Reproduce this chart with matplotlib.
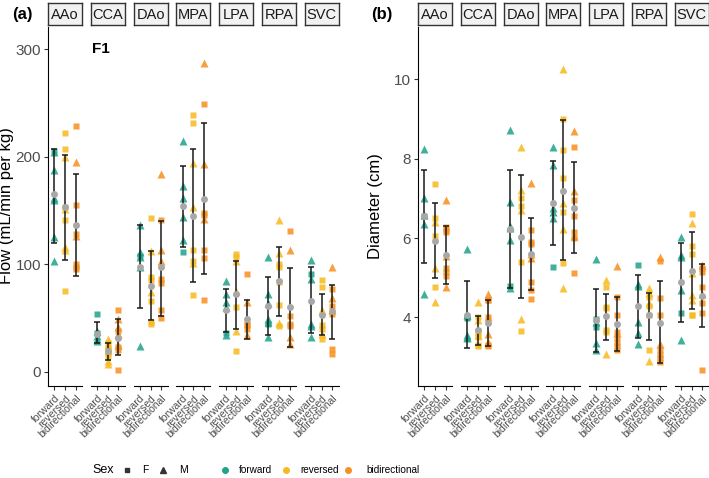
import numpy as np
import matplotlib.pyplot as plt
from matplotlib.lines import Line2D

plt.rcParams['font.family'] = ['Liberation Sans', 'DejaVu Sans']

vessels = ["AAo", "CCA", "DAo", "MPA", "LPA", "RPA", "SVC"]
directions = ["forward", "reversed", "bidirectional"]
dir_colors = ["#1FA38A", "#F7BA1E", "#F7901E"]

# ---- panel (a): flow, one list per vessel, F = squares, M = triangles
flow_fwd_F = [[205], [54, 36], [108], [111], [36], [44], [91]]
flow_fwd_M = [[204, 188, 162, 160, 125, 103], [38, 33, 30, 28], [136, 111, 107, 97, 24],
              [215, 173, 162, 144, 122], [84, 72, 65, 60, 34], [107, 72, 64, 49, 46, 32],
              [104, 86, 44, 42, 32]]
flow_rev_F = [[222, 207, 153, 141, 75], [27, 22, 17, 14], [143, 88, 85, 66, 46, 44],
              [239, 231, 113, 103, 71], [109, 107, 60, 19], [100, 97, 83, 62, 42],
              [85, 79, 43, 40, 30]]
flow_rev_M = [[200, 151, 116, 113], [30, 25, 20, 10, 7], [112, 74], [194, 153, 101],
              [103, 75, 38], [141, 110, 45], [57, 35]]
flow_bid_F = [[229, 155, 128, 100, 97, 95], [57, 38, 23, 20, 1], [141, 86, 82, 57, 50],
              [249, 148, 146, 113, 106, 67], [91, 44, 43, 40], [131, 52, 44, 42],
              [77, 61, 54, 21, 16]]
flow_bid_M = [[195, 126], [49, 41, 35, 25], [184, 113, 103], [287, 193, 142], [65, 34],
              [113, 32, 26], [97, 68, 57]]
# mean and error bar ends per vessel: [forward, reversed, bidirectional]
flow_mean = [[165, 153, 136], [35, 19, 31], [97, 80, 97], [154, 145, 161],
             [57, 72, 49], [61, 84, 60], [66, 53, 56]]
flow_lo = [[120, 104, 89], [27, 11, 15], [59, 48, 52], [116, 83, 91],
           [37, 40, 30], [34, 52, 23], [36, 34, 30]]
flow_hi = [[207, 202, 184], [46, 27, 49], [136, 112, 140], [191, 207, 231],
           [77, 103, 67], [88, 116, 96], [97, 72, 81]]

# ---- panel (b): diameter
diam_fwd_F = [[6.55], [4.02, 3.98], [4.78], [5.28], [3.95, 3.75], [5.32], [4.1]]
diam_fwd_M = [[8.24, 7.0, 6.58, 6.35, 4.58], [5.73, 4.06, 3.55, 3.5, 3.48],
              [8.73, 6.92, 6.3, 6.25, 5.95, 4.75], [8.3, 7.84, 6.75, 6.66, 6.5],
              [5.46, 3.89, 3.36, 3.18], [4.83, 4.79, 3.88, 3.6, 3.34],
              [6.03, 5.56, 5.53, 4.69, 3.43]]
diam_rev_F = [[7.35, 6.5, 6.05, 4.77], [4.02, 3.65, 3.6, 3.5, 3.3, 3.27], [7.0, 6.8, 5.4, 3.66],
              [8.99, 8.22, 7.52, 6.65, 5.36], [4.77, 4.27, 4.23, 3.68, 3.62],
              [4.52, 4.29, 4.05, 3.18], [6.61, 5.8, 5.6, 4.07, 4.06]]
diam_rev_M = [[6.4, 5.25, 4.4], [4.4, 3.93, 3.55], [8.3, 7.2, 6.7, 3.96], [10.25, 6.89, 6.22, 4.73],
              [4.94, 3.07], [4.73, 4.62, 4.35, 2.9], [6.39, 5.11, 4.56, 4.45]]
diam_bid_F = [[6.28, 6.2, 6.15, 5.25, 5.15, 5.05], [4.45, 4.43, 4.0, 3.3, 3.27],
              [6.2, 5.9, 5.85, 4.88, 4.7, 4.47], [8.3, 6.96, 6.55, 6.16, 5.99, 5.13],
              [4.52, 4.05, 3.64, 3.47, 3.36, 3.28, 3.18], [5.43, 4.48, 4.05, 3.18, 3.05, 2.97, 2.88],
              [5.25, 5.15, 4.77, 4.37, 4.1, 2.67]]
diam_bid_M = [[6.97, 5.55, 4.77], [4.6, 4.0, 3.57, 3.37], [7.38, 5.6, 5.5], [8.7, 7.19, 6.05],
              [5.29, 3.6], [5.53, 3.34], [5.32, 4.6]]
diam_mean = [[6.55, 5.93, 5.57], [4.05, 3.67, 3.87], [6.22, 6.03, 5.6], [6.88, 7.19, 6.76],
             [3.93, 4.03, 3.83], [4.29, 4.05, 3.87], [4.88, 5.18, 4.55]]
diam_lo = [[5.37, 4.98, 4.85], [3.22, 3.3, 3.28], [4.75, 4.49, 4.7], [5.82, 5.45, 5.63],
           [3.12, 3.43, 3.15], [3.49, 3.43, 2.84], [3.88, 4.22, 3.75]]
diam_hi = [[7.72, 6.88, 6.3], [4.92, 4.03, 4.45], [7.72, 7.58, 6.5], [7.94, 8.97, 7.92],
           [4.72, 4.6, 4.52], [5.08, 4.62, 4.92], [5.87, 6.14, 5.34]]

W, H = 709, 478


def rect(x0, y0, x1, y1):
    # pixel box (top-left origin) -> figure fraction
    return [x0 / W, 1 - y1 / H, (x1 - x0) / W, (y1 - y0) / H]


fig = plt.figure(figsize=(W / 100, H / 100), dpi=100)


def draw_panel(x_start, groups_F, groups_M, mean, lo, hi, ylim, yticks, ylabel, ylab_x):
    for i, v in enumerate(vessels):
        left = x_start + i * 42.8
        ax = fig.add_axes(rect(left, 27, left + 34, 386))
        for j in range(3):
            F = groups_F[j][i]
            M = groups_M[j][i]
            ax.plot(np.full(len(F), j + 1), F, 's', color=dir_colors[j], ms=4.3,
                    alpha=0.85, mec='none', zorder=2)
            ax.plot(np.full(len(M), j + 1), M, '^', color=dir_colors[j], ms=5.2,
                    alpha=0.85, mec='none', zorder=2)
            m = mean[i][j]
            ax.errorbar(j + 1, m, yerr=[[m - lo[i][j]], [hi[i][j] - m]], color='#1a1a1a',
                        capsize=2.2, lw=1.1, capthick=1.1, zorder=3)
            ax.plot(j + 1, m, 'o', color='#A8A8A8', ms=5, mec='none', zorder=4)
        ax.set_xlim(0.4, 3.6)
        ax.set_ylim(*ylim)
        ax.spines['top'].set_visible(False)
        ax.spines['right'].set_visible(False)
        ax.set_xticks([1, 2, 3])
        ax.set_xticklabels(directions, rotation=45, ha='right', va='top',
                           rotation_mode='anchor', fontsize=7.5, color='#4D4D4D')
        ax.tick_params(axis='x', length=3, pad=2, color='#333333')
        if i == 0:
            ax.set_yticks(yticks)
            ax.set_yticklabels([str(t) for t in yticks], fontsize=11, color='#4D4D4D')
            ax.tick_params(axis='y', length=3, pad=2, color='#333333')
        else:
            ax.spines['left'].set_visible(False)
            ax.set_yticks([])
        # facet strip
        st = fig.add_axes(rect(left, 3, left + 34, 25))
        st.set_facecolor('#F2F2F2')
        st.set_xticks([])
        st.set_yticks([])
        for s in st.spines.values():
            s.set_color('#333333')
            s.set_linewidth(1.0)
        st.text(0.5, 0.45, v, ha='center', va='center', fontsize=10.5, color='#1A1A1A',
                transform=st.transAxes)
    fig.text(ylab_x / W, 1 - 206 / H, ylabel, rotation=90, ha='center', va='center',
             fontsize=12)


draw_panel(48, [flow_fwd_F, flow_rev_F, flow_bid_F], [flow_fwd_M, flow_rev_M, flow_bid_M],
           flow_mean, flow_lo, flow_hi, (-13.5, 320.8), [0, 100, 200, 300],
           "Flow (mL/min per kg)", 7)
draw_panel(418, [diam_fwd_F, diam_rev_F, diam_bid_F], [diam_fwd_M, diam_rev_M, diam_bid_M],
           diam_mean, diam_lo, diam_hi, (2.27, 11.32), [4, 6, 8, 10],
           "Diameter (cm)", 376)

fig.text(22 / W, 1 - 14 / H, "(a)", ha='center', va='center', fontsize=12, fontweight='bold')
fig.text(382 / W, 1 - 14 / H, "(b)", ha='center', va='center', fontsize=12, fontweight='bold')
fig.text(101 / W, 1 - 49 / H, "F1", ha='center', va='center', fontsize=11, fontweight='bold')

# legend along the bottom
ly = 1 - 470 / H
fig.text(92 / W, ly, "Sex", ha='left', va='center', fontsize=9)
fig.add_artist(Line2D([127 / W], [ly], marker='s', ms=3.2, color='#333333', ls='none',
                      transform=fig.transFigure))
fig.text(142 / W, ly, "F", ha='left', va='center', fontsize=7.5)
fig.add_artist(Line2D([163 / W], [ly], marker='^', ms=4, color='#333333', ls='none',
                      transform=fig.transFigure))
fig.text(179 / W, ly, "M", ha='left', va='center', fontsize=7.5)
leg_x = [225, 286, 348]
txt_x = [239, 300, 366]
for k in range(3):
    fig.add_artist(Line2D([leg_x[k] / W], [ly], marker='o', ms=4, color=dir_colors[k],
                          ls='none', transform=fig.transFigure))
    fig.text(txt_x[k] / W, ly, directions[k], ha='left', va='center', fontsize=7.2)

fig.savefig("out.png", dpi=100)
